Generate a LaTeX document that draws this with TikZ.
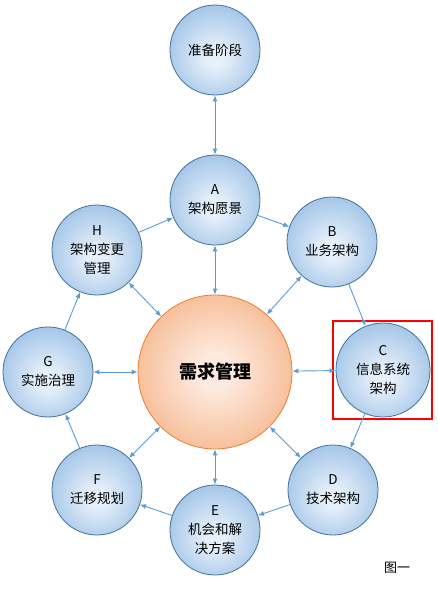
\documentclass[tikz,border=0pt]{standalone}
\usepackage{fontspec}
\setmainfont{Noto Sans CJK SC}
\usepackage{tikz}
\usetikzlibrary{arrows.meta}

\definecolor{ringline}{HTML}{5B9BD5}
\definecolor{bubbleedge}{HTML}{41719C}
\definecolor{bubbleout}{HTML}{8CB6E1}
\definecolor{bubblein}{HTML}{E6F0FA}
\definecolor{hubedge}{HTML}{ED7D31}
\definecolor{hubout}{HTML}{F3A470}
\definecolor{hubin}{HTML}{FDE9DD}

\pgfdeclareradialshading{bubbleshade}{\pgfpoint{0bp}{-5bp}}{color(0bp)=(bubblein); color(5bp)=(bubblein); color(36bp)=(bubbleout); color(50bp)=(bubbleout)}
\pgfdeclareradialshading{hubshade}{\pgfpoint{0bp}{0bp}}{color(0bp)=(hubin); color(6bp)=(hubin); color(38bp)=(hubout); color(50bp)=(hubout)}

\tikzset{
    bubble/.style={circle, draw=bubbleedge, line width=0.8pt, shading=bubbleshade,
        minimum size=90pt, inner sep=0pt, align=center, font=\fontsize{13.5}{19}\selectfont},
    hub/.style={circle, draw=hubedge, line width=0.8pt, shading=hubshade,
        minimum size=154pt, inner sep=0pt, font=\fontsize{18}{20}\selectfont\bfseries},
    link/.style={draw=ringline, line width=0.9pt, -{Latex[length=6pt,width=5pt]}},
    twoway/.style={draw=ringline, line width=0.9pt, {Latex[length=6pt,width=5pt]}-{Latex[length=6pt,width=5pt]}}
}

\begin{document}
\begin{tikzpicture}[x=1pt, y=-1pt]
    \useasboundingbox (0,0) rectangle (437,589);

    % central and outer bubbles
    \node[hub] (req) at (215,372) {需求管理};
    \node[bubble] (prep) at (215,50) {准备阶段};
    \node[bubble] (a) at (215,200) {A\\架构愿景};
    \node[bubble] (b) at (332,242) {B\\业务架构};
    \node[bubble, minimum size=94pt] (c) at (383,370) {C\\信息系统\\架构};
    \node[bubble] (d) at (333,490) {D\\技术架构};
    \node[bubble] (e) at (215,530) {E\\机会和解\\决方案};
    \node[bubble] (f) at (97,490) {F\\迁移规划};
    \node[bubble] (g) at (48,372) {G\\实施治理};
    \node[bubble] (h) at (97,250) {H\\架构变更\\管理};

    % highlight box
    \draw[red, line width=2pt] (333,321) rectangle (432,419);

    \draw[twoway] (prep) -- (a);

    % ring of phases
    \foreach \from/\to in {a/b, b/c, c/d, d/e, e/f, f/g, g/h, h/a}{
        \draw[link] (\from) -- (\to);
    }

    % links to requirements
    \foreach \phase in {a,b,c,d,e,f,g,h}{
        \draw[twoway] (req) -- (\phase);
    }

    \node[font=\fontsize{13}{15}\selectfont] (caption) at (397,568) {图一};
\end{tikzpicture}
\end{document}
